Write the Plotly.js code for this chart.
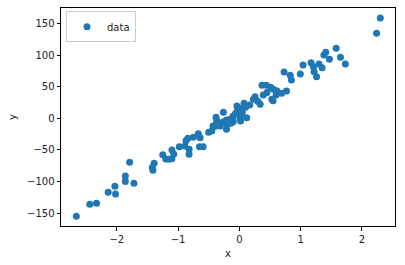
<!DOCTYPE html>
<html><head><meta charset="utf-8">
<script src="https://cdn.plot.ly/plotly-3.0.1.min.js"></script>
<style>html,body{margin:0;padding:0;background:#fff}#chart{width:405px;height:265px}</style>
</head><body><div id="chart"></div>
<script>
const xValues = [-2.66,-2.44,-2.33,-2.14,-2.03,-2.02,-1.86,-1.86,-1.79,-1.72,
 -1.42,-1.41,-1.39,-1.25,-1.20,-1.15,-1.10,-1.07,-1.10,-0.98,
 -0.89,-0.87,-0.84,-0.82,-0.82,-0.75,-0.67,-0.64,-0.65,-0.59,
 -0.45,-0.40,-0.37,-0.37,-0.43,-0.31,-0.34,-0.26,-0.21,-0.14,
 -0.10,0.02,-0.38,-0.26,-0.21,-0.15,-0.10,0.01,0.02,-0.03,
 -0.04,0.01,0.10,0.077,0.34,0.23,0.256,0.39,0.37,0.44,
 0.51,0.555,0.61,0.53,0.55,0.60,0.69,0.77,0.73,0.83,
 0.85,0.995,1.04,1.17,1.21,1.30,1.35,1.22,1.26,1.38,
 1.41,1.47,1.58,1.65,1.73,2.24,2.30,0.17,-0.06,0.12,
 -0.20,0.05,-0.50,0.30,0.45];
const yValues = [-155,-136,-134.5,-117,-107.6,-119.8,-91.3,-100,-69.6,-102.8,
 -78,-82.3,-71.2,-57.6,-64.4,-64.9,-50.2,-56.5,-64,-44.9,
 -43.8,-35.4,-31.6,-57,-49,-30,-24.4,-30.7,-44.9,-44.9,
 -20,-13,-8,-2.7,-12.2,-12.2,-8,-5.4,-17.4,-8,
 -5.4,-4.3,1.6,9.5,-2.7,-1.6,3.6,-0.6,5.2,11.6,
 19.5,15.8,17.4,23.7,22.2,30,34.2,36.9,52.2,52.2,
 49,45.9,43.7,30,27.8,36.9,39.6,43.2,73.3,68,
 60.6,70.1,84.3,88,81.6,85.9,80.1,73.7,65.8,100.2,
 104.4,93.3,110.8,96.5,85.9,134.5,158.7,21,8,1,
 -10,10,-22,27,41];
const seriesName = "data";
const xTicks = [-2,-1,0,1,2];
const yTicks = [-150,-100,-50,0,50,100,150];

const axisCommon = {
  showline: true, mirror: true, linecolor: '#000', linewidth: 1,
  ticks: 'outside', ticklen: 3.5, tickwidth: 1, tickcolor: '#000',
  showgrid: false, zeroline: false,
  tickfont: {family: 'DejaVu Sans', size: 10, color: '#222'}
};

Plotly.newPlot('chart', [{
  x: xValues, y: yValues, name: seriesName, type: 'scatter', mode: 'markers',
  marker: {color: '#1f77b4', size: 7}, showlegend: true
}], {
  width: 405, height: 265,
  margin: {l: 61, r: 10, t: 8, b: 39},
  paper_bgcolor: '#fff', plot_bgcolor: '#fff',
  font: {family: 'DejaVu Sans', size: 10, color: '#222'},
  xaxis: Object.assign({}, axisCommon, {range: [-2.91, 2.54], tickvals: xTicks,
    ticktext: xTicks.map(v => v < 0 ? '\u2212' + Math.abs(v) : String(v)),
    title: {text: 'x', font: {size: 10}, standoff: 6}}),
  yaxis: Object.assign({}, axisCommon, {range: [-170.4, 174.5], tickvals: yTicks,
    ticktext: yTicks.map(v => v < 0 ? '\u2212' + Math.abs(v) : String(v)),
    title: {text: 'y', font: {size: 10}, standoff: 8}}),
  showlegend: true,
  legend: {x: 0.015, y: 0.985, xanchor: 'left', yanchor: 'top',
    bgcolor: 'rgba(255,255,255,0.8)', bordercolor: '#cccccc', borderwidth: 1,
    font: {size: 10}, itemwidth: 30}
}, {displayModeBar: false, staticPlot: true});
</script></body></html>
